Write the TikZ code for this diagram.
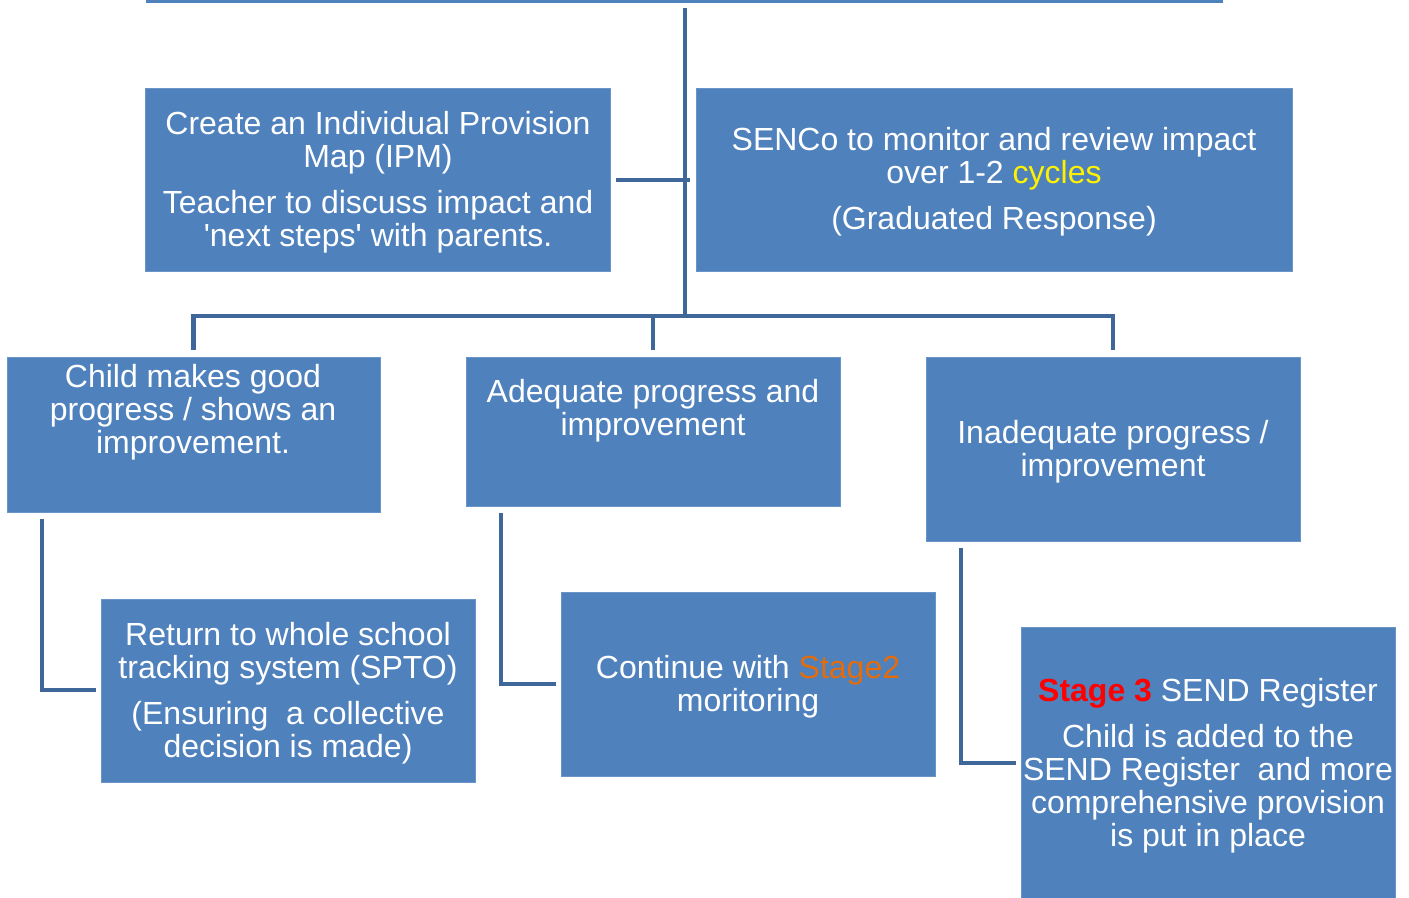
\documentclass[tikz,border=0pt]{standalone}
\usepackage{fontspec}
\setmainfont{Liberation Sans}[Ligatures=TeXOff]
\definecolor{boxblue}{HTML}{4F81BD}
\definecolor{linkblue}{HTML}{3F679A}
\definecolor{stageorange}{HTML}{E46C0A}
\tikzset{
  box/.style={fill=boxblue, draw=boxblue!85!white, line width=0.6pt, inner sep=0pt},
  txt/.style={text=white, align=center, font=\fontsize{24pt}{24.75pt}\selectfont, inner sep=0pt},
  link/.style={draw=linkblue, line width=3.6pt},
}
\begin{document}
\begin{tikzpicture}[x=0.75pt,y=-0.75pt]
\useasboundingbox (0,0) rectangle (1409,898);
% top line
\coordinate (tl) at (146,1.5);
\coordinate (tr) at (1223,1.5);
\draw[draw=boxblue, line width=2.5pt] (tl) -- (tr);

% boxes
\node[box, minimum width=465*0.75pt, minimum height=183*0.75pt] (ipm) at (377.5,179.5) {};
\node[box, minimum width=596*0.75pt, minimum height=183*0.75pt] (senco) at (994,179.5) {};
\node[box, minimum width=373*0.75pt, minimum height=155*0.75pt] (good) at (193.5,434.5) {};
\node[box, minimum width=374*0.75pt, minimum height=149*0.75pt] (adeq) at (653,431.5) {};
\node[box, minimum width=374*0.75pt, minimum height=184*0.75pt] (inad) at (1113,449) {};
\node[box, minimum width=374*0.75pt, minimum height=183*0.75pt] (ret) at (288,690.5) {};
\node[box, minimum width=374*0.75pt, minimum height=184*0.75pt] (cont) at (748,684) {};
\node[box, minimum width=374*0.75pt, minimum height=275*0.75pt] (st3) at (1208,764.5) {};

% texts
\node[txt] (ipmt) at (378,182) {Create an Individual Provision\\Map (IPM)\\[10pt]Teacher to discuss impact and\\'next steps' with parents.};
\node[txt] (sencot) at (994,182) {SENCo to monitor and review impact\\over 1-2 \textcolor{yellow}{cycles}\\[10pt](Graduated Response)};
\node[txt] (goodt) at (193,412) {Child makes good\\progress / shows an\\improvement.};
\node[txt] (adeqt) at (653,411) {Adequate progress and\\improvement};
\node[txt] (inadt) at (1113,452) {Inadequate progress /\\improvement};
\node[txt] (rett) at (288,693) {Return to whole school\\tracking system (SPTO)\\[10pt](Ensuring~ a collective\\decision is made)};
\node[txt] (contt) at (748,687) {Continue with \textcolor{stageorange}{Stage2}\\moritoring};
\node[txt] (st3t) at (1208,766) {\textcolor{red}{\bfseries Stage 3} SEND Register\\[10pt]Child is added to the\\SEND Register~ and more\\comprehensive provision\\is put in place};

% connectors
\coordinate (trunktop) at (685,8);
\coordinate (trunkbot) at (685,316);
\coordinate (ipmj) at (690,180);
\draw[link] (trunktop) -- (trunkbot);
\draw[link] (ipm.east |- ipmj) ++(6,0) -- (ipmj);
\draw[link] (good.north) ++(0,-7) |- (trunkbot) -| ([yshift=7*0.75pt]inad.north);
\draw[link] (adeq.north) ++(0,-7) -- (653,316);
\draw[link] (42,519) |- ([xshift=-5*0.75pt]ret.west |- 0,690);
\draw[link] (501,513) |- ([xshift=-5*0.75pt]cont.west |- 0,684);
\draw[link] (961,548) |- ([xshift=-5*0.75pt]st3.west |- 0,763);
\end{tikzpicture}
\end{document}
